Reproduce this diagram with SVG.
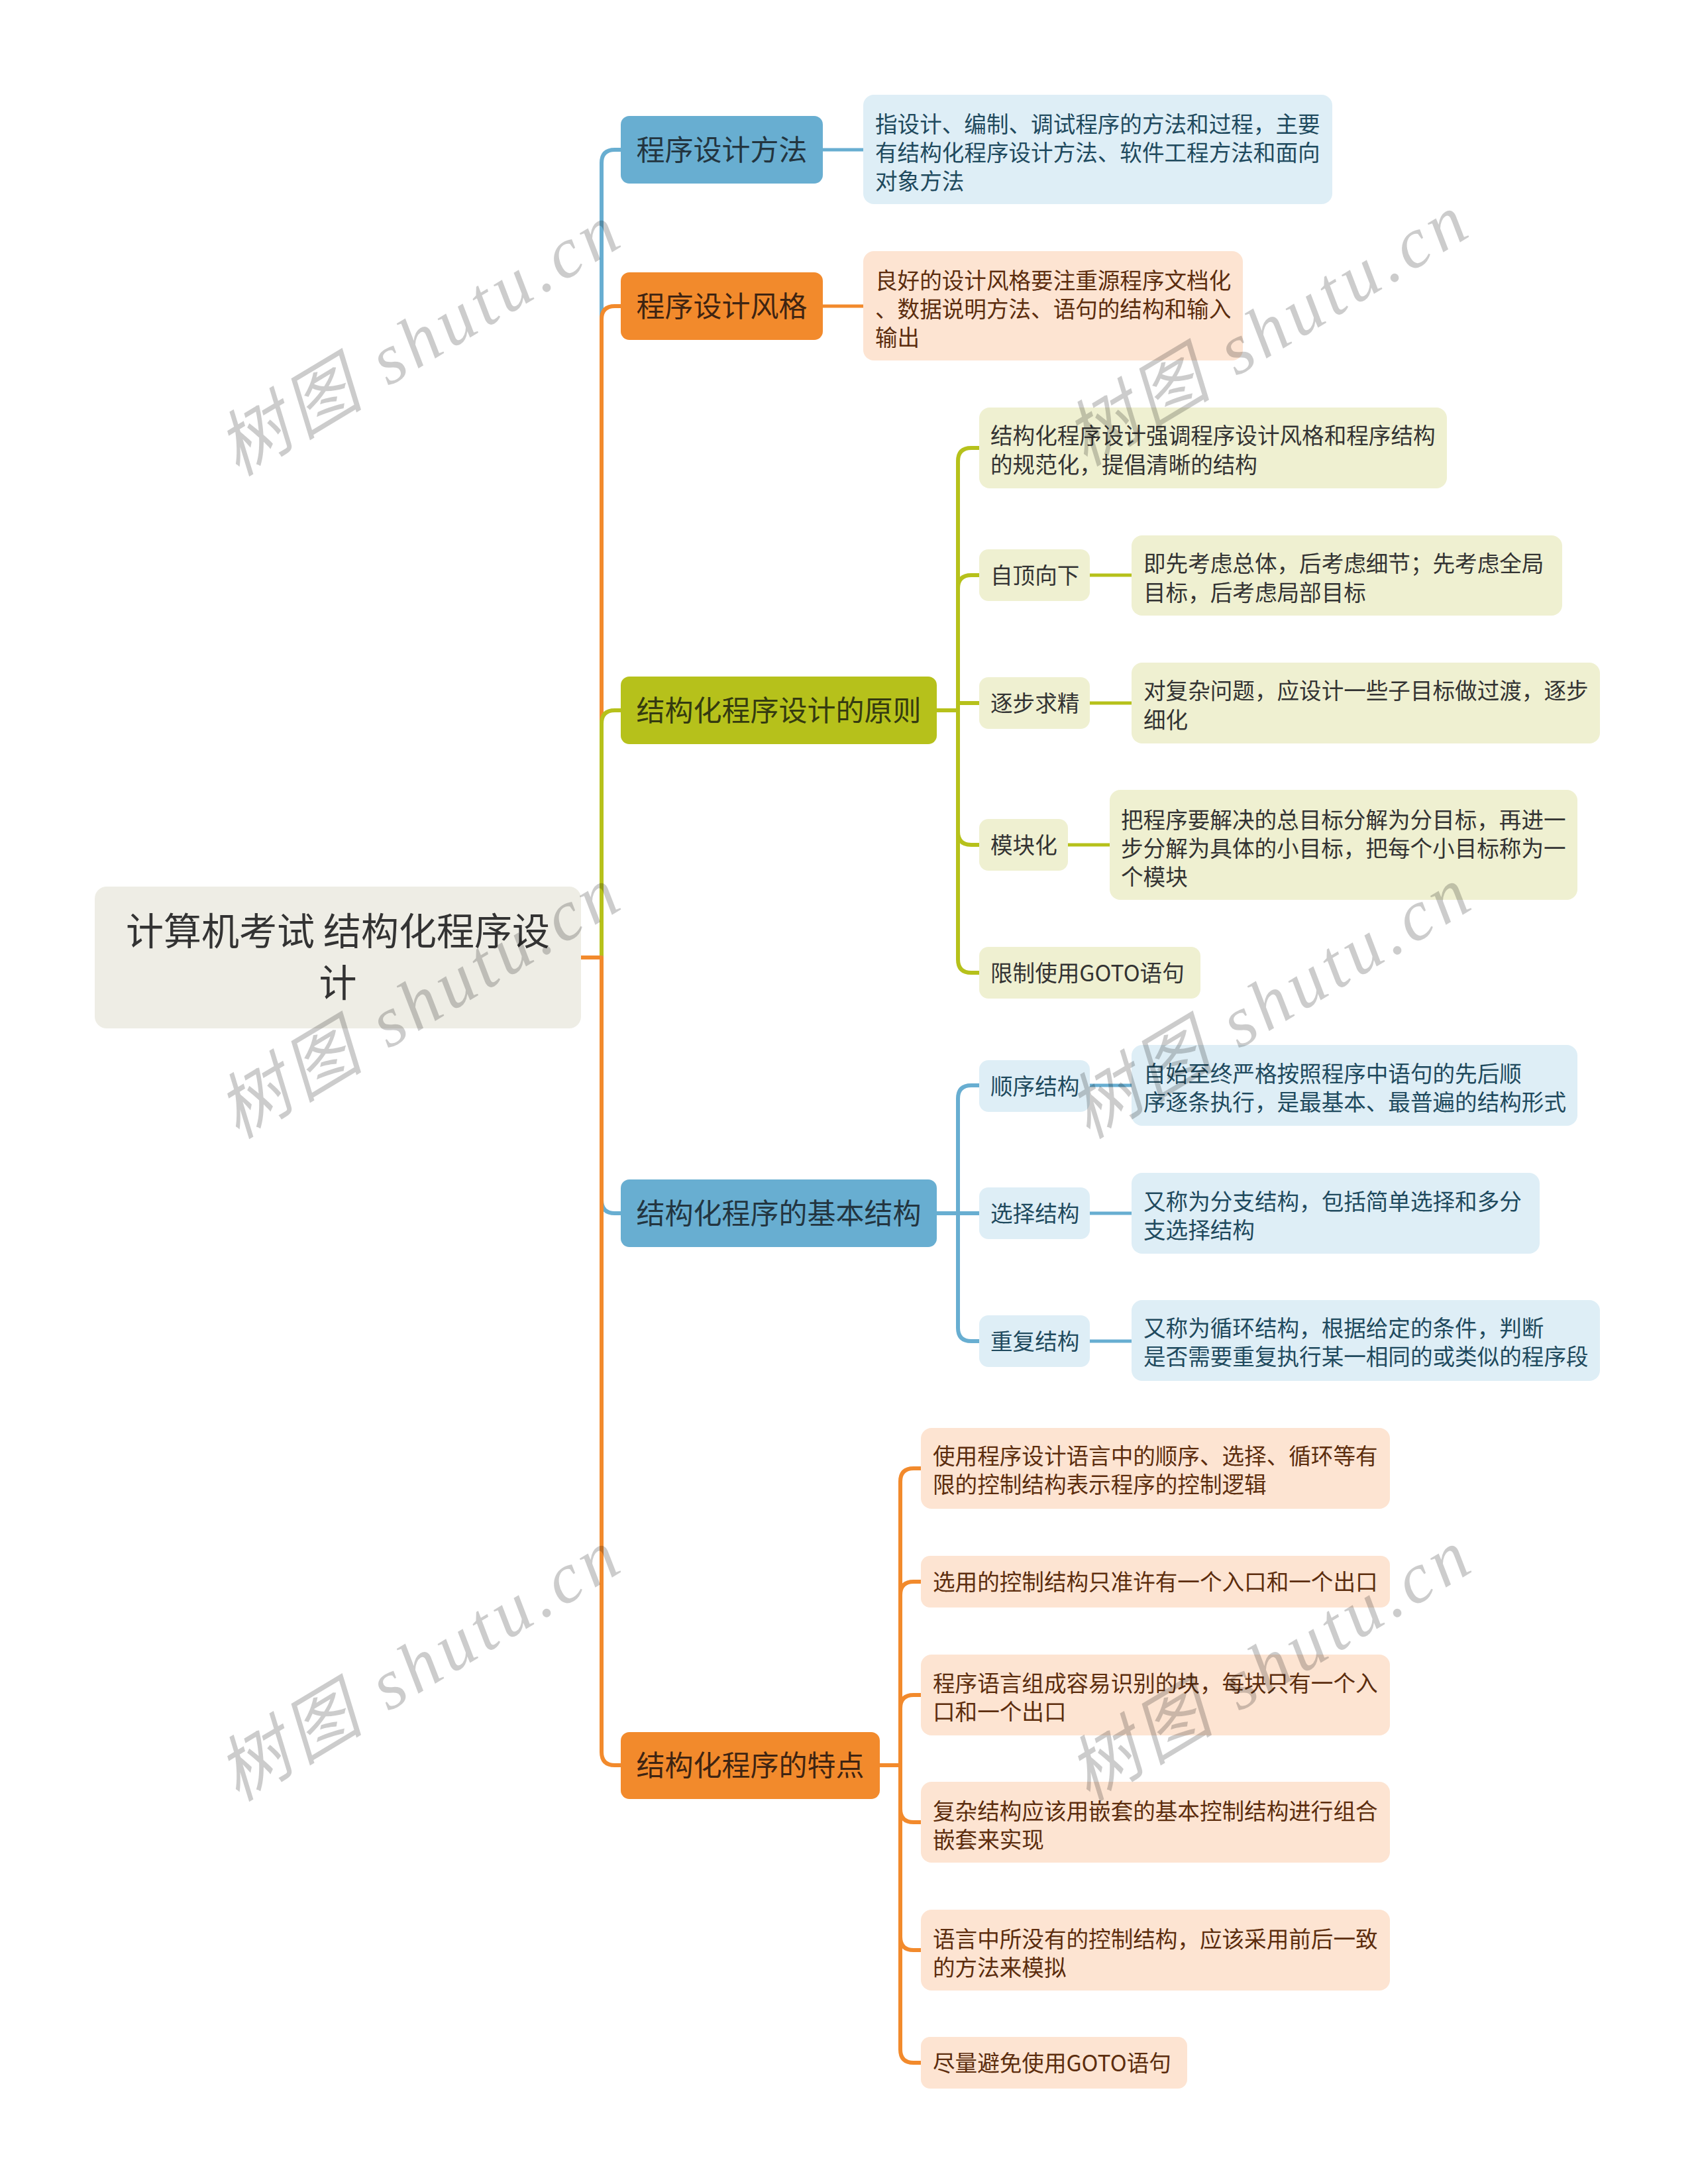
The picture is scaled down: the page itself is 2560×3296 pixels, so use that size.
<svg xmlns="http://www.w3.org/2000/svg" width="2560" height="3296" viewBox="0 0 2560 3296">
<style>
text { font-family: "Noto Sans CJK SC", "Noto Sans", sans-serif; }
.c0 { font-size: 57px; fill: #333333; text-anchor: middle; }
.t1 { font-size: 43px; text-anchor: middle; }
.t2 { font-size: 33.6px; }
.tb { fill: #1f4a5e; }
.to { fill: #5c2d0e; }
.tg { fill: #333333; }
.nb { fill: #68aed1; }
.no { fill: #f28a2c; }
.ng { fill: #b6c11b; }
.lb { fill: #deeef6; }
.lo { fill: #fde4d2; }
.lg { fill: #eff0d1; }
.ln { fill: none; stroke-width: 6; stroke-linejoin: round; }
.lf { fill: none; stroke-width: 5; }
.sb { stroke: #68aed1; }
.so { stroke: #f28a2c; }
.sg { stroke: #b6c11b; }
.wm { font-family: "Liberation Serif", "Noto Sans CJK SC", serif; font-style: italic; font-size: 108px; fill: #000000; fill-opacity: 0.2; text-anchor: middle; }
</style>
<rect width="2560" height="3296" fill="#ffffff"/>

<g id="connectors">
  <path class="ln sb" d="M877,1445 H908 V246 Q908,226 928,226 H937"/>
  <path class="ln so" d="M877,1445 H908 V482 Q908,462 928,462 H937"/>
  <path class="ln sg" d="M877,1445 H908 V1092 Q908,1072 928,1072 H937"/>
  <path class="ln sb" d="M877,1445 H908 V1811 Q908,1831 928,1831 H937"/>
  <path class="ln so" d="M877,1445 H908 V2644 Q908,2664 928,2664 H937"/>

  <path class="lf sb" d="M1242,226 H1303"/>
  <path class="lf so" d="M1242,462 H1303"/>

  <path class="ln sg" d="M1414,1072 H1446 V696 Q1446,676 1466,676 H1478"/>
  <path class="ln sg" d="M1414,1072 H1446 V888 Q1446,868 1466,868 H1478"/>
  <path class="ln sg" d="M1414,1072 H1446 V1061 H1478"/>
  <path class="ln sg" d="M1414,1072 H1446 V1255 Q1446,1275 1466,1275 H1478"/>
  <path class="ln sg" d="M1414,1072 H1446 V1448 Q1446,1468 1466,1468 H1478"/>
  <path class="lf sg" d="M1645,868 H1708"/>
  <path class="lf sg" d="M1645,1061 H1708"/>
  <path class="lf sg" d="M1612,1275 H1675"/>

  <path class="ln sb" d="M1414,1831 H1446 V1658 Q1446,1638 1466,1638 H1478"/>
  <path class="ln sb" d="M1414,1831 H1478"/>
  <path class="ln sb" d="M1414,1831 H1446 V2004 Q1446,2024 1466,2024 H1478"/>
  <path class="lf sb" d="M1645,1638 H1708"/>
  <path class="lf sb" d="M1645,1831 H1708"/>
  <path class="lf sb" d="M1645,2024 H1708"/>

  <path class="ln so" d="M1328,2664 H1359 V2236 Q1359,2216 1379,2216 H1390"/>
  <path class="ln so" d="M1328,2664 H1359 V2407 Q1359,2387 1379,2387 H1390"/>
  <path class="ln so" d="M1328,2664 H1359 V2578 Q1359,2558 1379,2558 H1390"/>
  <path class="ln so" d="M1328,2664 H1359 V2730 Q1359,2750 1379,2750 H1390"/>
  <path class="ln so" d="M1328,2664 H1359 V2923 Q1359,2943 1379,2943 H1390"/>
  <path class="ln so" d="M1328,2664 H1359 V3093 Q1359,3113 1379,3113 H1390"/>
</g>

<g id="root">
  <rect x="143" y="1338" width="734" height="214" rx="18" fill="#eeede5"/>
  <text class="c0" x="510" y="1426">计算机考试 结构化程序设</text>
  <text class="c0" x="510" y="1504">计</text>
</g>

<g id="n1">
  <rect class="nb" x="937" y="175" width="305" height="102" rx="13"/>
  <text class="t1" x="1089.5" y="242" fill="#233540">程序设计方法</text>
</g>
<g id="n1-1">
  <rect class="lb" x="1303" y="143" width="708" height="165" rx="16"/>
  <text class="t2 tb" x="1321" y="200">指设计、编制、调试程序的方法和过程，主要</text>
  <text class="t2 tb" x="1321" y="243">有结构化程序设计方法、软件工程方法和面向</text>
  <text class="t2 tb" x="1321" y="286">对象方法</text>
</g>

<g id="n2">
  <rect class="no" x="937" y="411" width="305" height="102" rx="13"/>
  <text class="t1" x="1089.5" y="478" fill="#3e2412">程序设计风格</text>
</g>
<g id="n2-1">
  <rect class="lo" x="1303" y="379" width="573" height="165" rx="16"/>
  <text class="t2 to" x="1321" y="436">良好的设计风格要注重源程序文档化</text>
  <text class="t2 to" x="1321" y="479">、数据说明方法、语句的结构和输入</text>
  <text class="t2 to" x="1321" y="522">输出</text>
</g>

<g id="n3">
  <rect class="ng" x="937" y="1021" width="477" height="102" rx="13"/>
  <text class="t1" x="1175.5" y="1088" fill="#343a10">结构化程序设计的原则</text>
</g>
<g id="n3-1">
  <rect class="lg" x="1478" y="615" width="706" height="122" rx="16"/>
  <text class="t2 tg" x="1495" y="670">结构化程序设计强调程序设计风格和程序结构</text>
  <text class="t2 tg" x="1495" y="714">的规范化，提倡清晰的结构</text>
</g>
<g id="n3-2">
  <rect class="lg" x="1478" y="829" width="167" height="78" rx="14"/>
  <text class="t2 tg" x="1495" y="881">自顶向下</text>
</g>
<g id="n3-2-1">
  <rect class="lg" x="1708" y="808" width="650" height="121" rx="16"/>
  <text class="t2 tg" x="1726" y="863">即先考虑总体，后考虑细节；先考虑全局</text>
  <text class="t2 tg" x="1726" y="907">目标，后考虑局部目标</text>
</g>
<g id="n3-3">
  <rect class="lg" x="1478" y="1022" width="167" height="78" rx="14"/>
  <text class="t2 tg" x="1495" y="1074">逐步求精</text>
</g>
<g id="n3-3-1">
  <rect class="lg" x="1708" y="1000" width="707" height="122" rx="16"/>
  <text class="t2 tg" x="1726" y="1055">对复杂问题，应设计一些子目标做过渡，逐步</text>
  <text class="t2 tg" x="1726" y="1099">细化</text>
</g>
<g id="n3-4">
  <rect class="lg" x="1478" y="1236" width="134" height="78" rx="14"/>
  <text class="t2 tg" x="1495" y="1288">模块化</text>
</g>
<g id="n3-4-1">
  <rect class="lg" x="1675" y="1192" width="706" height="166" rx="16"/>
  <text class="t2 tg" x="1692" y="1250">把程序要解决的总目标分解为分目标，再进一</text>
  <text class="t2 tg" x="1692" y="1293">步分解为具体的小目标，把每个小目标称为一</text>
  <text class="t2 tg" x="1692" y="1336">个模块</text>
</g>
<g id="n3-5">
  <rect class="lg" x="1478" y="1429" width="334" height="78" rx="14"/>
  <text class="t2 tg" x="1495" y="1481">限制使用GOTO语句</text>
</g>

<g id="n4">
  <rect class="nb" x="937" y="1780" width="477" height="102" rx="13"/>
  <text class="t1" x="1175.5" y="1847" fill="#233540">结构化程序的基本结构</text>
</g>
<g id="n4-1">
  <rect class="lb" x="1478" y="1600" width="167" height="78" rx="14"/>
  <text class="t2 tb" x="1495" y="1652">顺序结构</text>
</g>
<g id="n4-1-1">
  <rect class="lb" x="1708" y="1577" width="673" height="122" rx="16"/>
  <text class="t2 tb" x="1726" y="1633">自始至终严格按照程序中语句的先后顺</text>
  <text class="t2 tb" x="1726" y="1676">序逐条执行，是最基本、最普遍的结构形式</text>
</g>
<g id="n4-2">
  <rect class="lb" x="1478" y="1792" width="167" height="78" rx="14"/>
  <text class="t2 tb" x="1495" y="1844">选择结构</text>
</g>
<g id="n4-2-1">
  <rect class="lb" x="1708" y="1770" width="616" height="122" rx="16"/>
  <text class="t2 tb" x="1726" y="1826">又称为分支结构，包括简单选择和多分</text>
  <text class="t2 tb" x="1726" y="1869">支选择结构</text>
</g>
<g id="n4-3">
  <rect class="lb" x="1478" y="1985" width="167" height="78" rx="14"/>
  <text class="t2 tb" x="1495" y="2037">重复结构</text>
</g>
<g id="n4-3-1">
  <rect class="lb" x="1708" y="1962" width="707" height="122" rx="16"/>
  <text class="t2 tb" x="1726" y="2017">又称为循环结构，根据给定的条件，判断</text>
  <text class="t2 tb" x="1726" y="2060">是否需要重复执行某一相同的或类似的程序段</text>
</g>

<g id="n5">
  <rect class="no" x="937" y="2614" width="391" height="101" rx="13"/>
  <text class="t1" x="1132.5" y="2680" fill="#3e2412">结构化程序的特点</text>
</g>
<g id="n5-1">
  <rect class="lo" x="1390" y="2155" width="708" height="122" rx="16"/>
  <text class="t2 to" x="1408" y="2210">使用程序设计语言中的顺序、选择、循环等有</text>
  <text class="t2 to" x="1408" y="2253">限的控制结构表示程序的控制逻辑</text>
</g>
<g id="n5-2">
  <rect class="lo" x="1390" y="2348" width="708" height="78" rx="14"/>
  <text class="t2 to" x="1408" y="2400">选用的控制结构只准许有一个入口和一个出口</text>
</g>
<g id="n5-3">
  <rect class="lo" x="1390" y="2497" width="708" height="122" rx="16"/>
  <text class="t2 to" x="1408" y="2553">程序语言组成容易识别的块，每块只有一个入</text>
  <text class="t2 to" x="1408" y="2596">口和一个出口</text>
</g>
<g id="n5-4">
  <rect class="lo" x="1390" y="2689" width="708" height="122" rx="16"/>
  <text class="t2 to" x="1408" y="2746">复杂结构应该用嵌套的基本控制结构进行组合</text>
  <text class="t2 to" x="1408" y="2789">嵌套来实现</text>
</g>
<g id="n5-5">
  <rect class="lo" x="1390" y="2882" width="708" height="122" rx="16"/>
  <text class="t2 to" x="1408" y="2939">语言中所没有的控制结构，应该采用前后一致</text>
  <text class="t2 to" x="1408" y="2982">的方法来模拟</text>
</g>
<g id="n5-6">
  <rect class="lo" x="1390" y="3074" width="402" height="78" rx="14"/>
  <text class="t2 to" x="1408" y="3126">尽量避免使用GOTO语句</text>
</g>

<g id="watermarks">
  <text class="wm" transform="translate(650,545) rotate(-31)" textLength="680" lengthAdjust="spacing">树图 shutu.cn</text>
  <text class="wm" transform="translate(1930,530) rotate(-31)" textLength="680" lengthAdjust="spacing">树图 shutu.cn</text>
  <text class="wm" transform="translate(650,1545) rotate(-31)" textLength="680" lengthAdjust="spacing">树图 shutu.cn</text>
  <text class="wm" transform="translate(1934,1545) rotate(-31)" textLength="680" lengthAdjust="spacing">树图 shutu.cn</text>
  <text class="wm" transform="translate(650,2545) rotate(-31)" textLength="680" lengthAdjust="spacing">树图 shutu.cn</text>
  <text class="wm" transform="translate(1934,2545) rotate(-31)" textLength="680" lengthAdjust="spacing">树图 shutu.cn</text>
</g>
</svg>
